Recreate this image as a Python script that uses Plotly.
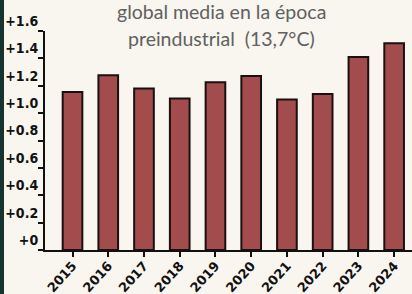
import plotly.graph_objects as go

years = ["2015", "2016", "2017", "2018", "2019", "2020", "2021", "2022", "2023", "2024"]
anomaly = [1.155, 1.277, 1.18, 1.107, 1.226, 1.272, 1.10, 1.14, 1.41, 1.51]
ytick_vals = [0, 0.2, 0.4, 0.6, 0.8, 1.0, 1.2, 1.4, 1.6]
ytick_text = ["+0", "+0.2", "+0.4", "+0.6", "+0.8", "+1.0", "+1.2", "+1.4", "+1.6"]
title_lines = ["global media en la época", "preindustrial  (13,7°C)"]

BG = "#f8f6ef"
fig = go.Figure(go.Bar(
    x=years, y=anomaly, width=0.55,
    marker=dict(color="#a34c4e", line=dict(color="#1a1010", width=2)),
    hoverinfo="skip",
))

fig.update_layout(
    template="none",
    width=412, height=294,
    margin=dict(l=45, r=0, t=31, b=44, autoexpand=False),
    paper_bgcolor=BG, plot_bgcolor=BG,
    showlegend=False,
    xaxis=dict(
        type="category", range=[-0.77, 9.5], automargin=False,
        showline=True, linecolor="#111", linewidth=2,
        ticks="outside", ticklen=5, tickwidth=2, tickcolor="#111",
        tickangle=-48, showgrid=False, ticklabelstandoff=-4,
        tickfont=dict(family="DejaVu Sans", size=13, color="#111"),
        tickprefix="<b>", ticksuffix="</b>",
    ),
    yaxis=dict(
        range=[0, 1.6], tickvals=ytick_vals, ticktext=["<b>" + t + "</b>" for t in ytick_text],
        automargin=False,
        showline=True, linecolor="#111", linewidth=2,
        ticks="outside", ticklen=5, tickwidth=2, tickcolor="#111",
        showgrid=False, zeroline=False, ticklabelshift=-10, ticklabelstandoff=-3,
        tickfont=dict(family="DejaVu Sans Condensed, DejaVu Sans", size=14, color="#111"),
    ),
    shapes=[dict(type="rect", xref="paper", yref="paper", x0=-45/367, x1=-41/367, y0=-1, y1=2,
                 fillcolor="#17332f", line=dict(width=0), layer="above")],
    annotations=[
        dict(text=title_lines[0], x=(221 - 45) / 367, y=(250 - 12) / 219, xref="paper", yref="paper",
             showarrow=False, yanchor="middle",
             font=dict(family="Lato", size=19.5, color="#606060")),
        dict(text=title_lines[1], x=(221 - 45) / 367, y=(250 - 38) / 219, xref="paper", yref="paper",
             showarrow=False, yanchor="middle",
             font=dict(family="Lato", size=19.5, color="#606060")),
    ],
)

fig.write_html("out.html", config={"displayModeBar": False, "staticPlot": True},
               post_script="document.body.style.margin='0';document.body.style.overflow='hidden';")
